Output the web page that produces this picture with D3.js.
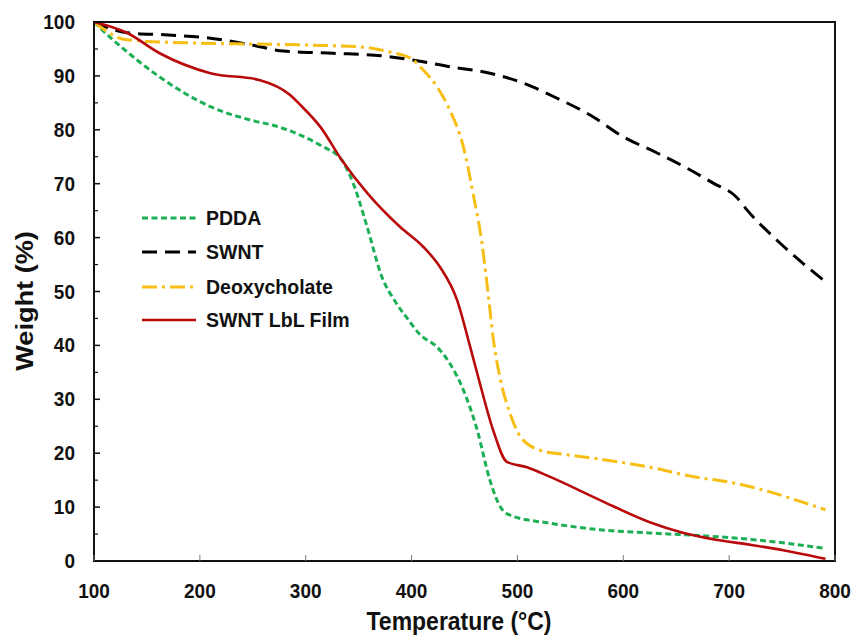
<!DOCTYPE html>
<html><head><meta charset="utf-8">
<script src="https://cdn.jsdelivr.net/npm/d3@7"></script>
<style>body{margin:0;background:#fff}svg{font-family:"Liberation Sans",Arial,sans-serif;font-weight:bold}</style>
</head><body><svg id="c" width="856" height="637"></svg>
<script>
const xTicks=[100,200,300,400,500,600,700,800];
const yTicks=[0,10,20,30,40,50,60,70,80,90,100];
const seriesNames=["PDDA","SWNT","Deoxycholate","SWNT LbL Film"];
const pddaT=[100,115,131,162,210,250,270,295,315,334,345,358,372,385,396,408,424,435,449,462,474,484,493,531,578,625,689,736,789];
const pddaW=[100,97.2,94.5,89.8,84.3,81.7,80.8,79,77,74.4,70,62,52.7,48,45,42,39.7,37,31.7,24.3,15,10,8.5,7,5.8,5.2,4.5,3.7,2.4];
const swntT=[100,131,170,210,250,279,326,373,405,436,474,505,537,569,600,632,660,685,707,717,748,791];
const swntW=[100,98,97.6,97,95.7,94.6,94.2,93.7,92.8,91.7,90.5,88.7,85.9,82.7,78.7,75.7,72.9,70.1,67.5,65.1,59,51.8];
const deoxT=[100,131,194,254,307,351,380,399,411,424,436,449,458,467,473,477,484,493,503,521,547,571,625,673,689,791];
const deoxW=[100,96.7,96.1,95.9,95.7,95.4,94.4,93.3,91.1,88,83.7,76.8,68.3,58.3,48.4,41.5,33.6,27.4,23,20.6,19.7,19.1,17.4,15.4,15,9.5];
const lblT=[100,131,162,210,257,285,295,314,334,358,389,411,427,443,455,465,477,490,509,531,578,625,657,689,720,751,791];
const lblW=[100,98,94.2,90.5,89.2,86.5,84.6,80.5,74.4,68.3,62,58.3,54.5,48.4,40,32.6,24.3,18.4,17.4,15.6,11.3,7.2,5.2,3.9,3,2,0.4];

const svg=d3.select("#c");
const L=94,R=835,T=22,B=561;
const x=d3.scaleLinear().domain([100,800]).range([L,R]);
const y=d3.scaleLinear().domain([0,100]).range([B,T]);

const styles=[
 {t:pddaT,w:pddaW,color:"#1DAF55",dash:"6,3.5",width:3},
 {t:swntT,w:swntW,color:"#000000",dash:"15,8",width:3},
 {t:deoxT,w:deoxW,color:"#F7BE16",dash:"15,5,3,5",width:3},
 {t:lblT,w:lblW,color:"#B80A0A",dash:null,width:2.6}
];
const line=d3.line().x(d=>x(d[0])).y(d=>y(d[1])).curve(d3.curveMonotoneX);
styles.forEach(s=>{
  const data=s.t.map((t,i)=>[t,s.w[i]]);
  svg.append("path").attr("d",line(data)).attr("fill","none").attr("stroke",s.color)
    .attr("stroke-width",s.width).attr("stroke-dasharray",s.dash);
});

svg.append("rect").attr("x",L).attr("y",T).attr("width",R-L).attr("height",B-T)
  .attr("fill","none").attr("stroke","#111").attr("stroke-width",2);

const yMinor=d3.range(5,100,10);
svg.append("g").selectAll("line").data(yTicks).join("line")
  .attr("x1",L).attr("x2",L+6).attr("y1",d=>y(d)).attr("y2",d=>y(d)).attr("stroke","#111").attr("stroke-width",1.5);
svg.append("g").selectAll("line").data(yMinor).join("line")
  .attr("x1",L).attr("x2",L+4).attr("y1",d=>y(d)).attr("y2",d=>y(d)).attr("stroke","#111").attr("stroke-width",1.2);
svg.append("g").selectAll("line").data(xTicks).join("line")
  .attr("x1",d=>x(d)).attr("x2",d=>x(d)).attr("y1",B).attr("y2",B-6).attr("stroke","#777").attr("stroke-width",1);

svg.append("g").selectAll("text").data(yTicks).join("text")
  .attr("transform",d=>`translate(${L-19},${y(d)+7}) scale(1,1.1)`)
  .attr("text-anchor","end").attr("font-size",19).attr("fill","#111").text(d=>d);
svg.append("g").selectAll("text").data(xTicks).join("text")
  .attr("transform",d=>`translate(${x(d)},598) scale(1,1.1)`)
  .attr("text-anchor","middle").attr("font-size",19).attr("fill","#111").text(d=>d);

svg.append("text").attr("transform","translate(459,630) scale(1,1.1)").attr("text-anchor","middle").attr("font-size",23).attr("fill","#111").text("Temperature (°C)");
svg.append("text").attr("transform","translate(33,301) rotate(-90) scale(1.18,1)").attr("text-anchor","middle").attr("font-size",23).attr("fill","#111").text("Weight (%)");

const ly=[218,252,287,320];
styles.forEach((s,i)=>{
  svg.append("line").attr("x1",142).attr("x2",196).attr("y1",ly[i]).attr("y2",ly[i])
    .attr("stroke",s.color).attr("stroke-width",s.width).attr("stroke-dasharray",s.dash);
  svg.append("text").attr("x",206).attr("y",ly[i]+7).attr("font-size",19.5).attr("fill","#111").text(seriesNames[i]);
});
</script></body></html>
